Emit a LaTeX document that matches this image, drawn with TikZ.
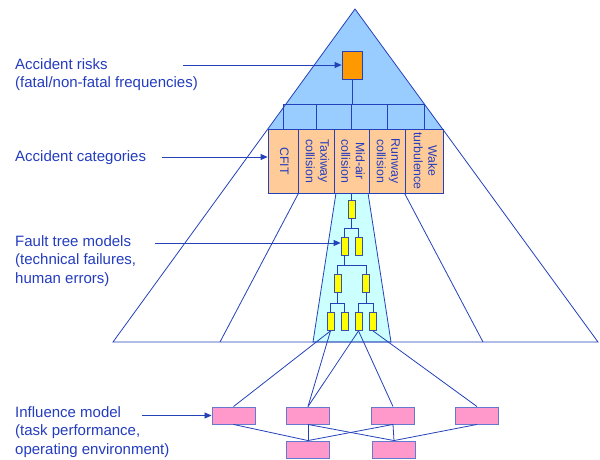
\documentclass[tikz,border=0pt]{standalone}
\usepackage{fontspec}
\usepackage{graphicx}
\setmainfont{Liberation Sans}
\usetikzlibrary{arrows.meta,calc}
\definecolor{ln}{RGB}{35,65,185}
\definecolor{txt}{RGB}{35,60,190}
\definecolor{skyfill}{HTML}{99CCFF}
\definecolor{peach}{HTML}{FFCC99}
\definecolor{orng}{HTML}{FF9900}
\definecolor{cyanfill}{HTML}{CCFFFF}
\definecolor{yel}{HTML}{FFFF00}
\definecolor{pnk}{HTML}{FF99CC}
\newcommand\vlab[1]{\rotatebox{-90}{\begin{tabular}{@{}c@{}}#1\end{tabular}}}
\begin{document}
\begin{tikzpicture}[x=1pt,y=-1pt,
 line/.style={draw=ln, line width=0.8pt},
 arr/.style={line, -{Triangle[length=7pt,width=6pt]}},
 txtlbl/.style={anchor=west, align=left, text=txt, font=\fontsize{15}{18.2}\selectfont, inner sep=0pt},
 catbox/.style={draw=ln, line width=0.8pt, fill=peach, minimum height=64pt, inner sep=0pt, text=txt, font=\fontsize{12.3}{14.5}\selectfont},
 ftbox/.style={draw=ln!75!gray, line width=0.8pt, fill=yel, minimum width=7pt, minimum height=18pt, inner sep=0pt},
 inbox/.style={draw=ln!70!white, line width=0.9pt, fill=pnk, minimum width=43pt, minimum height=17pt, inner sep=0pt},
 riskbox/.style={draw=ln, line width=0.8pt, fill=orng, minimum width=20pt, minimum height=28pt, inner sep=0pt},
]
\useasboundingbox (0,0) rectangle (600,459);

% pyramid
\coordinate (apex) at (355,9);
\coordinate (bl) at (113,342);
\coordinate (br) at (598,342);
\fill[skyfill] (apex) -- (267.8,129) -- (442.6,129) -- cycle;
\draw[line, fill=cyanfill] (336,193) -- (313,342) -- (391,342) -- (368,193);

% category boxes
\node[catbox, minimum width=30pt] (c1) at (283,161) {\vlab{CFIT}};
\node[catbox, minimum width=36pt] (c2) at (316,161) {\vlab{Taxiway\\collision}};
\node[catbox, minimum width=35pt] (c3) at (351.5,161) {\vlab{Mid-air\\collision}};
\node[catbox, minimum width=36pt] (c4) at (387,161) {\vlab{Runway\\collision}};
\node[catbox, minimum width=38pt] (c5) at (424,161) {\vlab{Wake\\turbulence}};

\coordinate (il) at (220,342);
\coordinate (ir) at (483,342);
\draw[line] (c1.south east) -- (il);
\draw[line] (c5.south west) -- (ir);
\draw[line] (apex) -- (bl) -- (br) -- cycle;

% risk box and bus
\node[riskbox] (risk) at (352,65) {};
\coordinate (bus) at (352,104);
\draw[line] (risk.south) -- (bus);
\foreach \c in {c1,c2,c3,c4,c5} \draw[line] (bus) -| (\c.north);

% fault tree
\node[ftbox] (f1) at (351.5,209) {};
\node[ftbox] (f2a) at (344.5,246) {};
\node[ftbox] (f2b) at (358.5,246) {};
\node[ftbox] (f3a) at (337.5,283.5) {};
\node[ftbox] (f3b) at (366,283.5) {};
\node[ftbox] (f4a) at (330.5,321.5) {};
\node[ftbox] (f4b) at (344.5,321.5) {};
\node[ftbox] (f4c) at (358.5,321.5) {};
\node[ftbox] (f4d) at (373,321.5) {};
\draw[line] (c3.south) -- (f1.north);
\coordinate (b1) at (351.5,228);
\coordinate (b2) at (344.5,265);
\coordinate (b3) at (337.5,303);
\coordinate (b4) at (366,303);
\draw[line] (f1.south) -- (b1);
\draw[line] (b1) -| (f2a.north);
\draw[line] (b1) -| (f2b.north);
\draw[line] (f2a.south) -- (b2);
\draw[line] (b2) -| (f3a.north);
\draw[line] (b2) -| (f3b.north);
\draw[line] (f3a.south) -- (b3);
\draw[line] (b3) -| (f4a.north);
\draw[line] (b3) -| (f4b.north);
\draw[line] (f3b.south) -- (b4);
\draw[line] (b4) -| (f4c.north);
\draw[line] (b4) -| (f4d.north);

% influence model
\node[inbox] (p1) at (233.5,415.5) {};
\node[inbox] (p2) at (308,415.5) {};
\node[inbox] (p3) at (393,415.5) {};
\node[inbox] (p4) at (477,415.5) {};
\node[inbox] (p5) at (308,449.5) {};
\node[inbox] (p6) at (394,449.5) {};
\draw[line] (f4a.south) -- (p1.north);
\draw[line] (f4a.south) -- (p2.north);
\draw[line] (f4c.south) -- (p2.north);
\draw[line] (f4c.south) -- (p3.north);
\draw[line] (f4d.south) -- (p4.north);
\draw[line] (p1.south) -- (p5.north);
\draw[line] (p2.south) -- (p5.north);
\draw[line] (p2.south) -- (p6.north);
\draw[line] (p3.south) -- (p5.north);
\draw[line] (p3.south) -- (p6.north);
\draw[line] (p4.south) -- (p6.north);

% arrows
\coordinate (a1) at (183,65);
\coordinate (a2) at (162,157);
\coordinate (a3) at (155,243);
\coordinate (a4) at (142,415.5);
\draw[arr] (a1) -- (risk.west);
\draw[arr] (a2) -- (a2 -| c1.west);
\draw[arr] (a3) -- (a3 -| f2a.west);
\draw[arr] (a4) -- (p1.west);

% labels
\node[txtlbl] (t1) at (15,75) {Accident risks\\(fatal/non-fatal frequencies)};
\node[txtlbl] (t2) at (15,158) {Accident categories};
\node[txtlbl] (t3) at (15,261) {Fault tree models\\(technical failures,\\human errors)};
\node[txtlbl] (t4) at (15,432) {Influence model\\(task performance,\\operating environment)};
\end{tikzpicture}
\end{document}
